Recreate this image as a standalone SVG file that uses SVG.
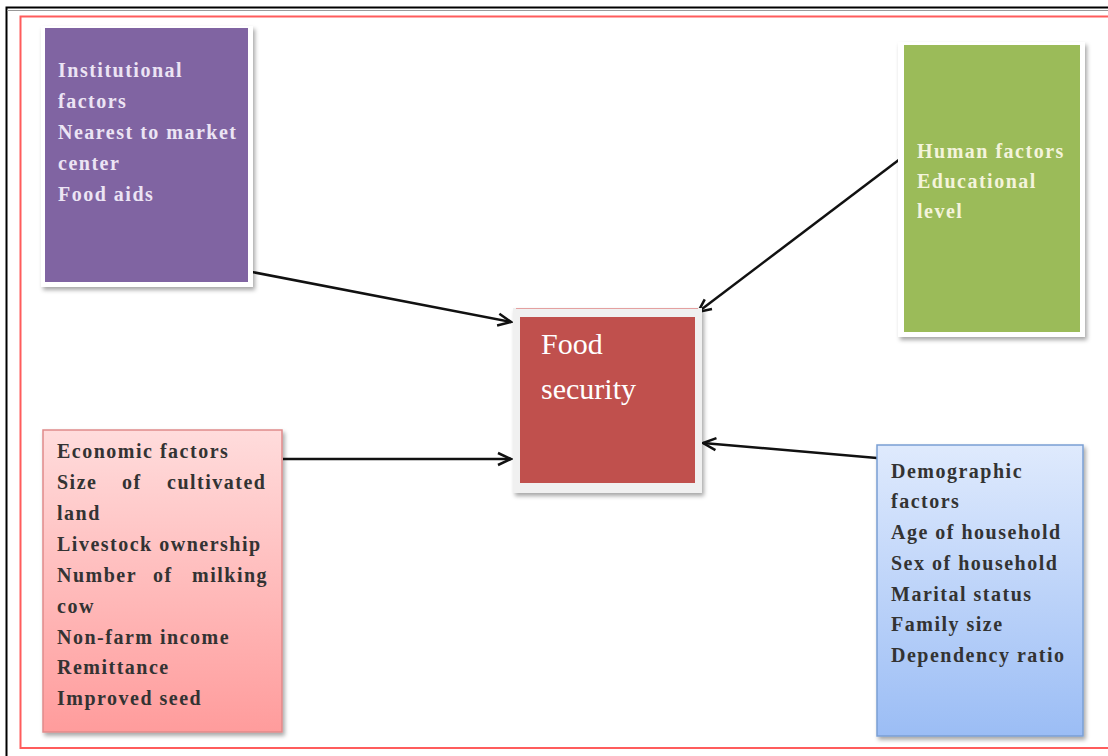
<svg xmlns="http://www.w3.org/2000/svg" width="1108" height="756" viewBox="0 0 1108 756">
<style>
.t{font-family:"Liberation Serif","Times New Roman",serif;font-weight:bold;font-size:20px;letter-spacing:1.5px}
.lt{fill:#ece4f4}
.gt{fill:#f4f4dc}
.dk{fill:#333333}
.conn{stroke:#111;stroke-width:2.5;fill:none;marker-end:url(#ah)}
</style>
<defs>
<filter id="sh" x="-10%" y="-10%" width="130%" height="130%">
<feDropShadow dx="2" dy="3" stdDeviation="2" flood-color="#000" flood-opacity="0.35"/>
</filter>
<linearGradient id="gp" x1="0" y1="0" x2="0" y2="1">
<stop offset="0" stop-color="#ffdcdc"/>
<stop offset="1" stop-color="#ff9c9c"/>
</linearGradient>
<linearGradient id="gb" x1="0" y1="0" x2="0" y2="1">
<stop offset="0" stop-color="#dfeafd"/>
<stop offset="1" stop-color="#9bbdf5"/>
</linearGradient>
<marker id="ah" markerUnits="userSpaceOnUse" markerWidth="18" markerHeight="16" refX="15" refY="8" orient="auto" viewBox="0 0 18 16">
<path d="M2,2 L15,8 L2,14" fill="none" stroke="#111" stroke-width="2.5" stroke-linejoin="miter"/>
</marker>
</defs>
<rect x="0" y="0" width="1108" height="756" fill="#ffffff"/>
<rect x="6.5" y="7.5" width="1120" height="770" fill="none" stroke="#000" stroke-width="2"/>
<line x1="7" y1="10.5" x2="1108" y2="10.5" stroke="#999" stroke-width="1"/>
<rect x="20.5" y="16.5" width="1110" height="731.5" fill="none" stroke="#ff5c5c" stroke-width="2"/>

<g id="connectors">
<line class="conn" x1="252" y1="272" x2="511" y2="322"/>
<line class="conn" x1="283" y1="459" x2="511" y2="459"/>
<line class="conn" x1="900" y1="159" x2="698" y2="312"/>
<line class="conn" x1="877" y1="458" x2="703" y2="443"/>
</g>

<g id="institutional">
<rect x="41" y="26" width="212" height="261" fill="#ffffff" filter="url(#sh)"/>
<rect x="45" y="28" width="203" height="254" fill="#8064a2"/>
<text class="t lt" x="58" y="77">Institutional</text>
<text class="t lt" x="58" y="108">factors</text>
<text class="t lt" x="58" y="139">Nearest to market</text>
<text class="t lt" x="58" y="170">center</text>
<text class="t lt" x="58" y="201">Food aids</text>
</g>

<g id="human">
<rect x="898" y="42" width="187" height="295" fill="#ffffff" filter="url(#sh)"/>
<rect x="904" y="45" width="176" height="287" fill="#9bbb59"/>
<text class="t gt" x="917" y="158">Human factors</text>
<text class="t gt" x="917" y="188">Educational</text>
<text class="t gt" x="917" y="218">level</text>
</g>

<g id="food">
<rect x="513" y="308" width="189" height="185" fill="#f0f0f0" filter="url(#sh)"/>
<line x1="516" y1="308.5" x2="698" y2="308.5" stroke="#e4a0a0" stroke-width="1"/>
<rect x="520" y="317" width="175" height="166" fill="#c0504d"/>
<text x="541" y="354" font-family="Liberation Serif, Times New Roman, serif" font-size="30" fill="#ffffff">Food</text>
<text x="541" y="399" font-family="Liberation Serif, Times New Roman, serif" font-size="30" fill="#ffffff">security</text>
</g>

<g id="economic">
<rect x="43" y="430" width="239" height="302" fill="url(#gp)" stroke="#e08a8a" stroke-width="1.5" filter="url(#sh)"/>
<text class="t dk" x="57" y="458">Economic factors</text>
<text class="t dk" y="489"><tspan x="57">Size</tspan><tspan x="122">of</tspan><tspan x="167">cultivated</tspan></text>
<text class="t dk" x="57" y="520">land</text>
<text class="t dk" x="57" y="551">Livestock ownership</text>
<text class="t dk" y="582"><tspan x="57">Number</tspan><tspan x="153">of</tspan><tspan x="192">milking</tspan></text>
<text class="t dk" x="57" y="613">cow</text>
<text class="t dk" x="57" y="644">Non-farm income</text>
<text class="t dk" x="57" y="674">Remittance</text>
<text class="t dk" x="57" y="705">Improved seed</text>
</g>

<g id="demographic">
<rect x="877" y="445" width="206" height="291" fill="url(#gb)" stroke="#7a9fd4" stroke-width="1.5" filter="url(#sh)"/>
<text class="t dk" x="891" y="478">Demographic</text>
<text class="t dk" x="891" y="508">factors</text>
<text class="t dk" x="891" y="539">Age of household</text>
<text class="t dk" x="891" y="570">Sex of household</text>
<text class="t dk" x="891" y="601">Marital status</text>
<text class="t dk" x="891" y="631">Family size</text>
<text class="t dk" x="891" y="662">Dependency ratio</text>
</g>
</svg>
